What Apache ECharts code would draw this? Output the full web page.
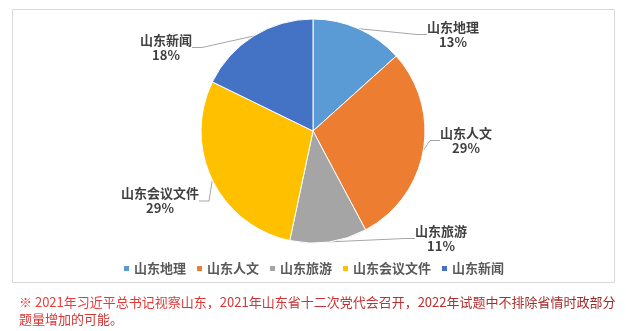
<!DOCTYPE html>
<html>
<head>
<meta charset="utf-8">
<script src="https://cdn.jsdelivr.net/npm/echarts@6/dist/echarts.min.js"></script>
<style>
html,body{margin:0;padding:0;background:#fff;}
#main{width:626px;height:331px;}
</style>
</head>
<body>
<div id="main"></div>
<script>
const categories = ['山东地理', '山东人文', '山东旅游', '山东会议文件', '山东新闻'];
const values = [6, 13, 5, 13, 8];
const colors = ['#5b9bd5', '#ed7d31', '#a5a5a5', '#ffc000', '#4472c4'];
const noteLine1 = '※ 2021年习近平总书记视察山东，2021年山东省十二次党代会召开，2022年试题中不排除省情时政部分';
const noteLine2 = '题量增加的可能。';

const labelPos = [[453, 34.5], [466, 140.5], [441, 238.5], [160, 201], [166, 47.5]];
const FONT = '"Noto Sans CJK SC", "Microsoft YaHei", sans-serif';

// stepped red gradient (top-left bright, right/bottom dark) via rich text segments
function lerp(a, b, t) { return Math.round(a + (b - a) * t); }
function mix(c1, c2, t) {
  return 'rgb(' + lerp(c1[0], c2[0], t) + ',' + lerp(c1[1], c2[1], t) + ',' + lerp(c1[2], c2[2], t) + ')';
}
const cStart = [246, 60, 60], cEnd = [160, 40, 40];
const rich = {};
let richText = '';
function addLine(str, tOffset, tSpan) {
  const chars = Array.from(str);
  const step = 3;
  for (let i = 0; i < chars.length; i += step) {
    const key = 'r' + Object.keys(rich).length;
    const t = Math.min(1, tOffset + tSpan * (i / 50));
    rich[key] = {fill: mix(cStart, cEnd, t), fontSize: 13, fontFamily: FONT, lineHeight: 16.5};
    richText += '{' + key + '|' + chars.slice(i, i + step).join('') + '}';
  }
}
addLine(noteLine1, 0, 1);
richText += '\n';
addLine(noteLine2, 0.3, 1);

const chart = echarts.init(document.getElementById('main'), null, {renderer: 'canvas'});
chart.setOption({
  animation: false,
  color: colors,
  graphic: [
    {
      type: 'rect',
      shape: {x: 12.5, y: 9.5, width: 602, height: 273},
      style: {fill: 'none', stroke: '#d9d9d9', lineWidth: 1},
      silent: true, z: -1
    },
    {
      type: 'text',
      left: 19, top: 294,
      style: {
        text: richText,
        rich: rich,
        fill: '#d83434',
        fontSize: 13,
        fontFamily: FONT,
        lineHeight: 16.5
      }
    }
  ],
  legend: {
    data: categories,
    left: 'center',
    top: 257,
    itemWidth: 7,
    itemHeight: 7,
    itemGap: 9,
    icon: 'rect',
    textStyle: {fontFamily: FONT, fontSize: 13, fontWeight: 'bold', color: '#595959', padding: [0, 0, 0, -1]}
  },
  series: [{
    type: 'pie',
    center: [313, 131],
    radius: 112,
    startAngle: 90,
    clockwise: true,
    percentPrecision: 0,
    itemStyle: {borderColor: '#fff', borderWidth: 1},
    data: categories.map((c, i) => ({name: c, value: values[i]})),
    label: {
      show: true,
      position: 'outside',
      formatter: '{b}\n{d}%',
      fontFamily: FONT,
      fontSize: 13,
      fontWeight: 'bold',
      color: '#404040',
      lineHeight: 15,
      align: 'center'
    },
    labelLine: {
      show: true,
      length: 10,
      length2: 10,
      lineStyle: {color: '#a6a6a6', width: 1}
    },
    labelLayout: function (params) {
      const p = labelPos[params.dataIndex];
      return {x: p[0], y: p[1], align: 'center', verticalAlign: 'middle'};
    },
    emphasis: {disabled: true}
  }]
});
</script>
</body>
</html>
